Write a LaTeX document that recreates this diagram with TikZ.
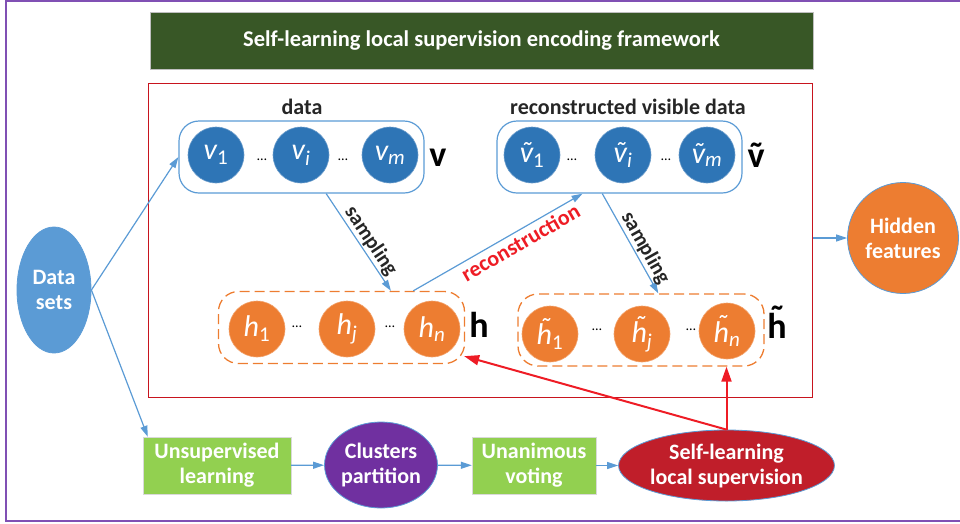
\documentclass[tikz,border=0pt]{standalone}
\usepackage{fontspec}
\setmainfont{Carlito}
\usetikzlibrary{arrows.meta,shapes.geometric,calc}

\definecolor{framepurple}{RGB}{128,80,180}
\definecolor{titlegreen}{RGB}{56,87,38}
\definecolor{framered}{RGB}{200,20,30}
\definecolor{lblue}{RGB}{91,155,213}
\definecolor{cblue}{RGB}{46,117,182}
\definecolor{corange}{RGB}{237,125,49}
\definecolor{boxgreen}{RGB}{146,208,80}
\definecolor{clpurple}{RGB}{112,48,160}
\definecolor{darkred}{RGB}{192,30,42}
\definecolor{redline}{RGB}{238,28,37}

% letters with a tilde set above them (spacing tilde placed by \accent)
\newcommand\htil{\accent"02DC h}
\newcommand\vtil{\accent"02DC v}

\begin{document}
\begin{tikzpicture}[x=1pt,y=-1pt,
  con/.style={draw=lblue, line width=1.2pt, -{Triangle[length=11pt,width=7pt]}},
  redcon/.style={draw=redline, line width=2pt, -{Triangle[length=15pt,width=10pt]}},
  unit/.style={circle, minimum size=56pt, inner sep=0pt, text=white,
    font=\fontsize{30}{30}\itshape},
  vunit/.style={unit, fill=cblue, draw=cblue!70!white, line width=0.6pt},
  hunit/.style={unit, fill=corange, draw=corange!70!white, line width=0.6pt},
  dotsep/.style={font=\fontsize{14}{14}\selectfont, inner sep=0pt},
  vgroup/.style={draw=lblue, line width=1.2pt, rounded corners=20pt,
    minimum width=245pt, minimum height=72pt},
  hgroup/.style={draw=corange, line width=1.3pt, dash pattern=on 10pt off 5pt,
    rounded corners=20pt, minimum width=246pt, minimum height=72pt},
  caption/.style={font=\fontsize{22}{22}\bfseries, text=black!85},
  layerlabel/.style={font=\fontsize{36}{36}\bfseries, text=black, inner sep=0pt},
  stepbox/.style={fill=boxgreen, draw=black!15, minimum width=148pt,
    minimum height=57pt, text=white, align=center,
    font=\fontsize{22}{25}\bfseries},
  blob/.style={ellipse, draw=lblue, line width=0.8pt, inner sep=0pt, text=white,
    align=center, font=\fontsize{22}{25}\bfseries},
  arrowlabel/.style={font=\fontsize{21}{21}\bfseries, text=black!85, inner sep=1pt}
]
\useasboundingbox (0,0) rectangle (960,523);

% outer frame
\draw[framepurple, line width=1.2pt] (965,1) -- (6,1) -- (6,521) -- (965,521);

% title bar
\node[fill=titlegreen, draw=black!25, minimum width=663pt, minimum height=57pt,
  text=white, font=\fontsize{22.5}{22.5}\bfseries] (title) at (481.5,40.5)
  {Self-learning local supervision encoding framework};

% encoding framework frame
\node[draw=framered, line width=1pt, minimum width=664pt, minimum height=314pt]
  (frame) at (480,240) {};

% visible layer v
\node[vgroup] (vbox) at (301.5,157) {};
\node[caption] (vcap) at (302,107) {data};
\node[vunit] (v1) at (216,155) {v\textsubscript{\upshape 1}};
\node[vunit] (vi) at (301,155) {v\textsubscript{i}};
\node[vunit] (vm) at (390,155) {v\textsubscript{m}};
\node[dotsep] (vd1) at (262,160) {\ldots};
\node[dotsep] (vd2) at (343,160) {\ldots};
\node[layerlabel] (vlab) at (438,158) {v};

% reconstructed visible layer
\node[vgroup] (rbox) at (619.5,157) {};
\node[caption] (rcap) at (628,107) {reconstructed visible data};
\node[vunit] (r1) at (532,155) {\vtil\textsubscript{\upshape 1}};
\node[vunit] (ri) at (623,155) {\vtil\textsubscript{i}};
\node[vunit] (rm) at (707,155) {\vtil\textsubscript{m}};
\node[dotsep] (rd1) at (572,160) {\ldots};
\node[dotsep] (rd2) at (666,160) {\ldots};
\node[layerlabel] (rlab) at (756,155) {\vtil};

% hidden layer h
\node[hgroup] (hbox) at (341.5,327.5) {};
\node[hunit] (h1) at (257,329) {h\textsubscript{\upshape 1}};
\node[hunit] (hj) at (347,329) {h\textsubscript{j}};
\node[hunit] (hn) at (432,329) {h\textsubscript{n}};
\node[dotsep] (hd1) at (297,327) {\ldots};
\node[dotsep] (hd2) at (390,327) {\ldots};
\node[layerlabel] (hlab) at (479,325) {h};

% reconstructed hidden layer
\node[hgroup] (gbox) at (641,330) {};
\node[hunit] (g1) at (550,334) {\htil\textsubscript{\upshape 1}};
\node[hunit] (gj) at (642,334) {\htil\textsubscript{j}};
\node[hunit] (gn) at (727,331) {\htil\textsubscript{n}};
\node[dotsep] (gd1) at (597,330) {\ldots};
\node[dotsep] (gd2) at (691,330) {\ldots};
\node[layerlabel] (glab) at (777,322) {\htil};

% inputs and outputs
\node[blob, fill=lblue, draw=lblue, minimum width=74pt, minimum height=126pt]
  (ds) at (54,290) {Data\\sets};
\node[blob, circle, fill=corange, minimum size=111pt] (hf) at (903,238)
  {Hidden\\features};

% supervision pipeline
\node[stepbox] (unsup) at (217,465.5) {Unsupervised\\learning};
\node[blob, fill=clpurple, minimum width=112pt, minimum height=86pt]
  (clus) at (381,465) {Clusters\\partition};
\node[stepbox, minimum width=124pt] (vote) at (534,465.5) {Unanimous\\voting};
\node[blob, fill=darkred, minimum width=193pt, minimum height=71pt]
  (sls) at (726.5,465.5) {Self-learning\\local supervision};

% connectors
\draw[con] (ds.east) -- (vbox.west);
\draw[con] (ds.east) -- ([xshift=5pt]unsup.north west);
\draw[con] (unsup) -- (clus);
\draw[con] (clus) -- (vote);
\draw[con] (vote) -- (sls);
\draw[con] (frame.east |- hf) -- (hf);

\draw[con] ($(vbox.south west)!0.6!(vbox.south east)$)
  -- node[arrowlabel, sloped, above, pos=0.55] {sampling}
  ($(hbox.north west)!0.7!(hbox.north east)$);
\draw[con] ($(hbox.north west)!0.79!(hbox.north east)$)
  -- node[arrowlabel, sloped, below=2pt, pos=0.6, text=redline,
          font=\fontsize{22}{22}\bfseries] {reconstruction}
  ($(rbox.south west)!0.35!(rbox.south east)$);
\draw[con] ($(rbox.south west)!0.43!(rbox.south east)$)
  -- node[arrowlabel, sloped, above, pos=0.6] {sampling}
  ($(gbox.north west)!0.57!(gbox.north east)$);

\draw[redcon] (sls.north) -- (sls.north |- gbox.south);
\draw[redcon] (sls.north) -- ($(hbox.south east)+(-1,-8)$);
\end{tikzpicture}
\end{document}
